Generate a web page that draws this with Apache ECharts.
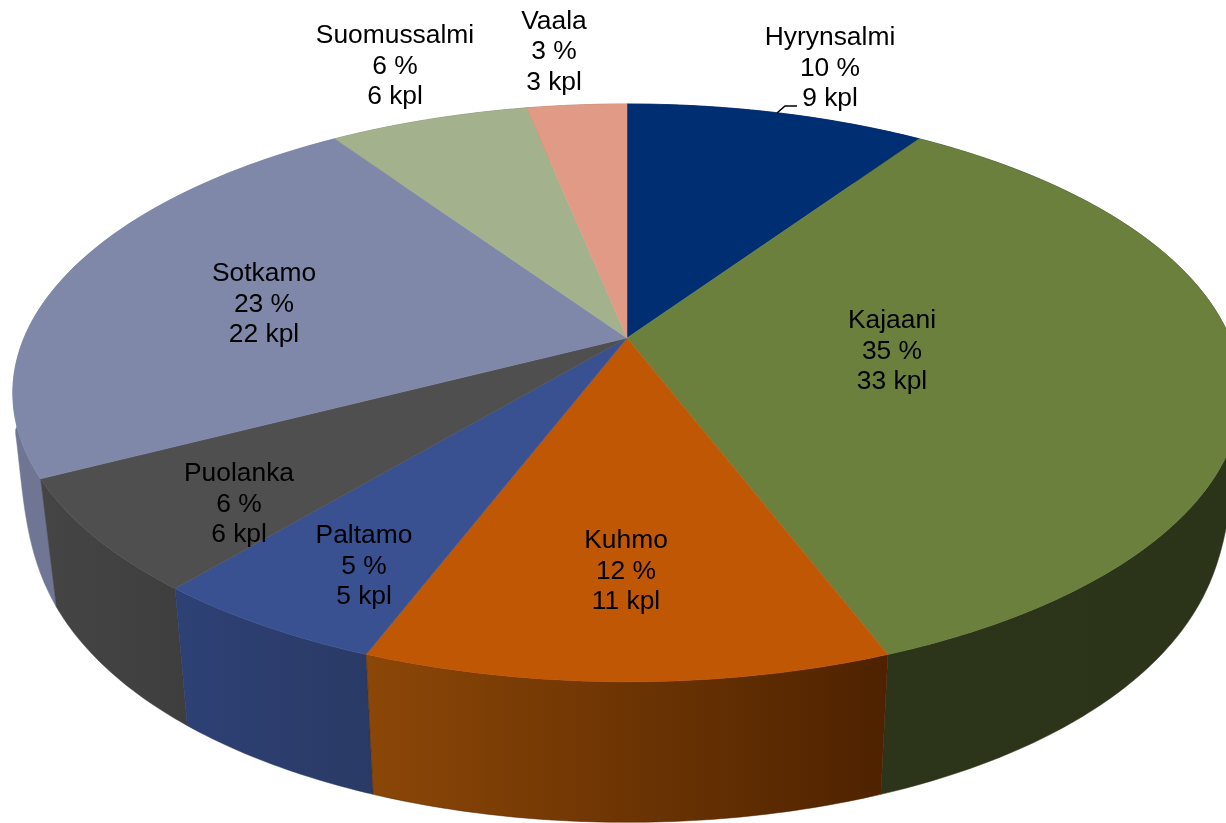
<!DOCTYPE html>
<html>
<head>
<meta charset="utf-8">
<style>html,body{margin:0;padding:0;background:#fff}#chart{width:1226px;height:823px}</style>
<script src="https://cdn.jsdelivr.net/npm/echarts@6/dist/echarts.min.js"></script>
</head>
<body>
<div id="chart"></div>
<script>
var municipalities = ['Hyrynsalmi','Kajaani','Kuhmo','Paltamo','Puolanka','Sotkamo','Suomussalmi','Vaala'];
var counts = [9,33,11,5,6,22,6,3];
var percents = [10,35,12,5,6,23,6,3];
var topColors = ['#002e73','#6a803c','#c05705','#395190','#4f4f50','#8088a9','#a3b18d','#e09a85'];
var sideLeft  = ['#001f4d','#2c3519','#8c4707','#2e4175','#454545','#6f7593','#6f7a60','#9a6a5c'];
var sideRight = ['#001f4d','#2b3418','#4e2200','#2a3a66','#3e3e3e','#767d9e','#6f7a60','#9a6a5c'];
var labelX = [830,892,626,364,239,264,395,554];
var labelY = [68.5,351.5,571.5,566.5,504.5,304.5,66.5,52];
var leaderPath = [[777,113],[785,106],[797,106]];

var total = counts.reduce(function(a,b){return a+b;},0);
function startOf(i){var s=0;for(var j=0;j<i;j++)s+=counts[j];return s/total*Math.PI*2;}
function endOf(i){return startOf(i+1);}
var CX=627, TOPY=338, RX=603, RY=278.5, K=0.19;
var BOTS=0.973, BOTSUP=0.42, BOTY=446.5, BOTRY=327, BOTK=0.13;
function topPt(a){
  var X=Math.sin(a),Y=Math.cos(a),d=1+K*Y;
  return [CX+RX*X/d, TOPY-RY*Y/d];
}
function botPt(a){
  var X=Math.sin(a),Y=Math.cos(a);
  var s=BOTS+BOTSUP*Math.pow(Math.max(0,Math.min(Y,0.05)+0.45),3);
  return [CX+s*RX*X/(1+K*Y), BOTY-BOTRY*Y/(1+BOTK*Y)];
}
function arc(fn,a0,a1){
  var n=Math.max(2,Math.ceil((a1-a0)/(Math.PI/240))),p=[];
  for(var i=0;i<=n;i++)p.push(fn(a0+(a1-a0)*i/n));
  return p;
}
function grad(i){
  return new echarts.graphic.LinearGradient(0,0,1,0,[{offset:0,color:sideLeft[i]},{offset:1,color:sideRight[i]}]);
}
var sideOrder = counts.map(function(_,i){return i;}).sort(function(p,q){
  return Math.cos((startOf(q)+endOf(q))/2)-Math.cos((startOf(p)+endOf(p))/2);
});
var chart = echarts.init(document.getElementById('chart'),null,{renderer:'canvas'});
chart.setOption({
  animation:false,
  backgroundColor:'#ffffff',
  series:[
    {type:'custom',coordinateSystem:'none',z:1,silent:true,
     data:sideOrder.map(function(i){return [i,counts[i]];}),
     renderItem:function(params,api){
       var i=api.value(0),a0=startOf(i),a1=endOf(i);
       var pts=arc(topPt,a0,a1).concat(arc(botPt,a0,a1).reverse());
       return {type:'polygon',shape:{points:pts},style:{fill:grad(i),stroke:sideRight[i],lineWidth:0.5}};
     }},
    {type:'custom',coordinateSystem:'none',z:2,silent:true,
     data:counts.map(function(c,i){return [i,c];}),
     renderItem:function(params,api){
       var i=api.value(0),a0=startOf(i),a1=endOf(i);
       var pts=[[CX,TOPY]].concat(arc(topPt,a0,a1));
       return {type:'polygon',shape:{points:pts},style:{fill:topColors[i],stroke:topColors[i],lineWidth:0.5}};
     }},
    {type:'custom',coordinateSystem:'none',z:3,silent:true,
     data:counts.map(function(c,i){return [i,c];}),
     renderItem:function(params,api){
       var i=api.value(0);
       var t=municipalities[i]+'\n'+percents[i]+' %\n'+counts[i]+' kpl';
       var kids=[{type:'text',style:{text:t,x:labelX[i],y:labelY[i],align:'center',verticalAlign:'middle',
         fontFamily:'"Liberation Sans",Arial,sans-serif',fontSize:26.4,lineHeight:30.5,fill:'#000000'}}];
       if(i===0){kids.push({type:'polyline',shape:{points:leaderPath},style:{stroke:'#000000',lineWidth:1.6,fill:'none'}});}
       return {type:'group',children:kids};
     }}
  ]
});
</script>
</body>
</html>
